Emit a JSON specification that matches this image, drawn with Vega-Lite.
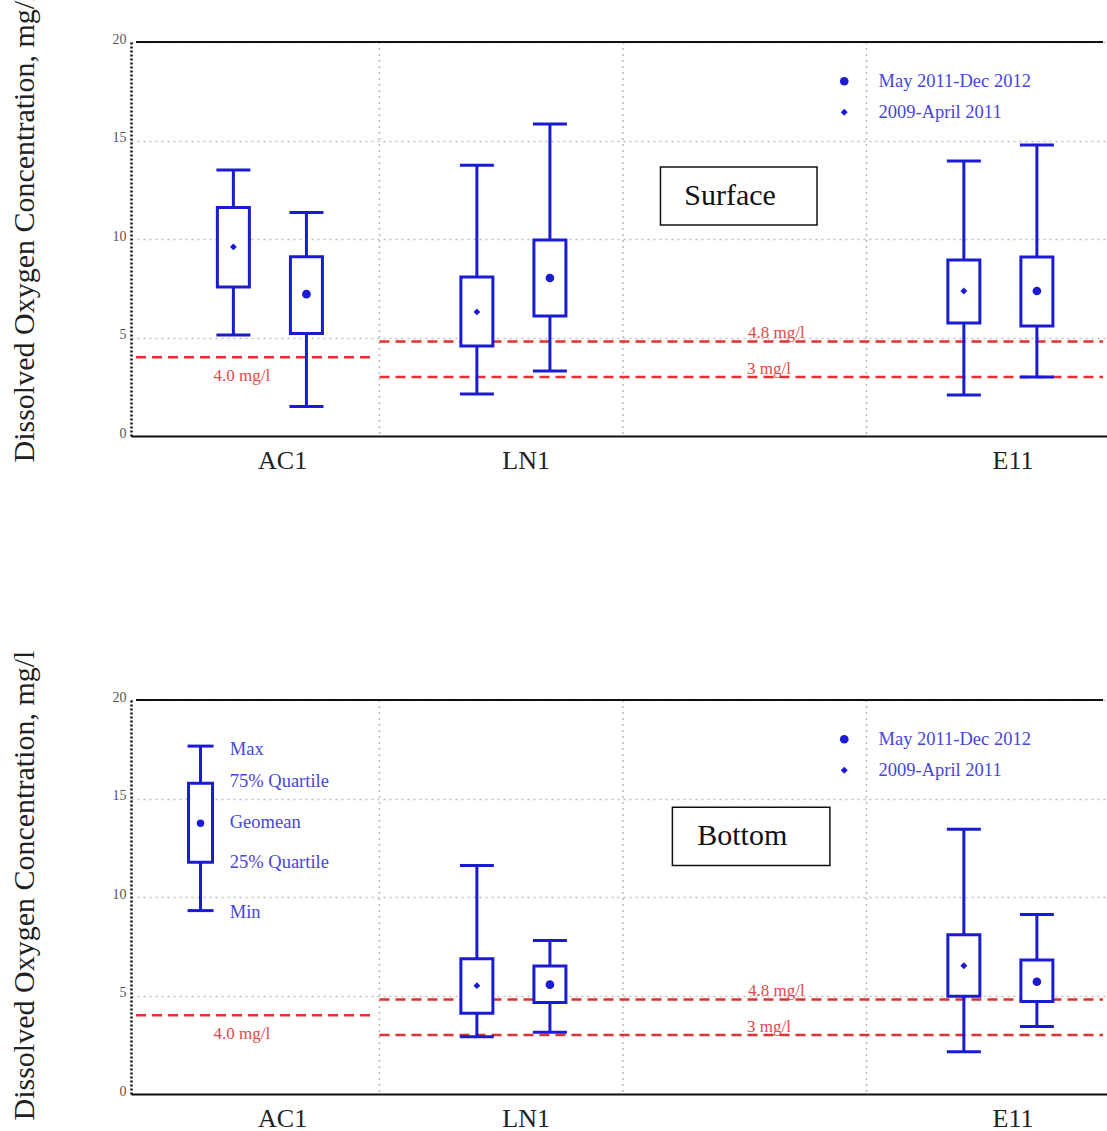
{
  "$schema": "https://vega.github.io/schema/vega-lite/v6.json",
  "background": "white",
  "padding": {"left": 9, "top": -8, "right": 0, "bottom": 0},
  "config": {
    "view": {"stroke": null},
    "font": "Liberation Serif"
  },
  "datasets": {
    "boxes": [
      {"panel": "Surface", "site": "AC1", "period": "2009-April 2011", "min": 5.13, "q1": 7.56, "mean": 9.6, "q3": 11.6, "max": 13.5},
      {"panel": "Surface", "site": "AC1", "period": "May 2011-Dec 2012", "min": 1.5, "q1": 5.2, "mean": 7.2, "q3": 9.1, "max": 11.35},
      {"panel": "Surface", "site": "LN1", "period": "2009-April 2011", "min": 2.13, "q1": 4.57, "mean": 6.3, "q3": 8.07, "max": 13.75},
      {"panel": "Surface", "site": "LN1", "period": "May 2011-Dec 2012", "min": 3.3, "q1": 6.09, "mean": 8.02, "q3": 9.95, "max": 15.84},
      {"panel": "Surface", "site": "E11", "period": "2009-April 2011", "min": 2.08, "q1": 5.74, "mean": 7.36, "q3": 8.93, "max": 13.96},
      {"panel": "Surface", "site": "E11", "period": "May 2011-Dec 2012", "min": 3.0, "q1": 5.58, "mean": 7.36, "q3": 9.09, "max": 14.77},
      {"panel": "Bottom", "site": "LN1", "period": "2009-April 2011", "min": 2.9, "q1": 4.1, "mean": 5.5, "q3": 6.87, "max": 11.6},
      {"panel": "Bottom", "site": "LN1", "period": "May 2011-Dec 2012", "min": 3.13, "q1": 4.65, "mean": 5.55, "q3": 6.5, "max": 7.79},
      {"panel": "Bottom", "site": "E11", "period": "2009-April 2011", "min": 2.14, "q1": 4.96, "mean": 6.51, "q3": 8.09, "max": 13.44},
      {"panel": "Bottom", "site": "E11", "period": "May 2011-Dec 2012", "min": 3.43, "q1": 4.7, "mean": 5.7, "q3": 6.8, "max": 9.11}
    ],
    "keybox": [
      {"site": "Key", "min": 9.31, "q1": 11.76, "mean": 13.74, "q3": 15.78, "max": 17.66}
    ],
    "keylabels": [
      {"label": "Max", "v": 17.5},
      {"label": "75% Quartile", "v": 15.88},
      {"label": "Geomean", "v": 13.79},
      {"label": "25% Quartile", "v": 11.76},
      {"label": "Min", "v": 9.26}
    ],
    "refs": [
      {"limit": 4.0, "from": 0, "to": 0.976, "label": "4.0 mg/l", "labelAt": 0.435},
      {"limit": 4.8, "from": 1, "to": 3.9715, "label": "4.8 mg/l", "labelAt": 2.63},
      {"limit": 3.0, "from": 1, "to": 3.9715, "label": "3 mg/l", "labelAt": 2.6}
    ],
    "bounds": [{"boundary": 1}, {"boundary": 2}, {"boundary": 3}]
  },
  "resolve": {"legend": {"shape": "independent", "size": "independent"}},
  "spacing": 177,
  "vconcat": [
    {
      "width": 977,
      "height": 394,
      "layer": [
        {
          "data": {"name": "bounds"},
          "mark": {"type": "rule", "color": "#b8b8b8", "strokeWidth": 1.5, "strokeDash": [2, 4]},
          "encoding": {
            "x": {"field": "boundary", "type": "quantitative", "scale": {"domain": [0, 3.9715], "nice": false, "zero": false},
              "axis": {"title": null, "values": [0.6, 1.6, 3.6], "labelExpr": "datum.value < 1 ? 'AC1' : datum.value < 2 ? 'LN1' : 'E11'", "grid": false, "ticks": false, "domainColor": "#111", "domainWidth": 2, "labelFont": "Liberation Serif", "labelFontSize": 26, "labelColor": "#222", "labelPadding": 11}}
          }
        },
        {
          "data": {"values": [{"edge": "top"}]},
          "mark": {"type": "rule", "color": "#111", "strokeWidth": 2},
          "encoding": {
            "x": {"datum": 0, "type": "quantitative"},
            "x2": {"datum": 3.9715},
            "y": {"datum": 20, "type": "quantitative", "scale": {"domain": [0, 20], "nice": false, "zero": true},
              "axis": {"title": "Dissolved Oxygen Concentration, mg/l", "titleFont": "Liberation Serif", "titleFontSize": 30, "titleFontWeight": "normal", "titleColor": "#222", "titleX": -98, "titleY": 420, "titleAngle": -90, "titleAlign": "left", "titleBaseline": "alphabetic", "values": [0, 5, 10, 15, 20], "labelFont": "Liberation Serif", "labelFontSize": 14, "labelColor": "#555", "labelBaseline": "middle", "labelOffset": -3, "labelPadding": 5, "ticks": false, "domainColor": "#111", "domainWidth": 2.5, "domainDash": [2, 2], "grid": true, "gridColor": "#c0c0c0", "gridDash": [2, 4], "gridWidth": 1.5}}
          }
        },
        {
          "data": {"name": "refs"},
          "mark": {"type": "rule", "color": "#e0302f", "strokeWidth": 2.5, "strokeDash": [10, 6]},
          "encoding": {
            "x": {"field": "from", "type": "quantitative", "title": null},
            "x2": {"field": "to"},
            "y": {"field": "limit", "type": "quantitative"}
          }
        },
        {
          "data": {"name": "refs"},
          "transform": [{"filter": "datum.limit == 4"}],
          "mark": {"type": "text", "color": "#e04a4a", "fontSize": 17, "baseline": "alphabetic", "dy": 24, "font": "Liberation Serif"},
          "encoding": {
            "x": {"field": "labelAt", "type": "quantitative", "title": null},
            "y": {"field": "limit", "type": "quantitative"},
            "text": {"field": "label"}
          }
        },
        {
          "data": {"name": "refs"},
          "transform": [{"filter": "datum.limit != 4"}],
          "mark": {"type": "text", "color": "#e04a4a", "fontSize": 17, "baseline": "alphabetic", "dy": -3, "font": "Liberation Serif"},
          "encoding": {
            "x": {"field": "labelAt", "type": "quantitative", "title": null},
            "y": {"field": "limit", "type": "quantitative"},
            "text": {"field": "label"}
          }
        },
        {
          "data": {"name": "boxes"},
          "transform": [
            {"filter": "datum.panel == 'Surface'"},
            {"calculate": "(datum.site == 'AC1' ? 0 : datum.site == 'LN1' ? 1 : 3) + (datum.period == '2009-April 2011' ? 0.4 : 0.7)", "as": "slot"}
          ],
          "layer": [
            {
              "mark": {"type": "rule", "color": "#1b1bd4", "strokeWidth": 3},
              "encoding": {
                "x": {"field": "slot", "type": "quantitative", "title": null},
                "y": {"field": "min", "type": "quantitative"},
                "y2": {"field": "max"}
              }
            },
            {
              "mark": {"type": "bar", "width": 32, "fill": "white", "stroke": "#1b1bd4", "strokeWidth": 3},
              "encoding": {
                "x": {"field": "slot", "type": "quantitative", "title": null},
                "y": {"field": "q1", "type": "quantitative"},
                "y2": {"field": "q3"}
              }
            },
            {
              "mark": {"type": "tick", "orient": "horizontal", "size": 34, "thickness": 3, "color": "#1b1bd4", "opacity": 1},
              "encoding": {
                "x": {"field": "slot", "type": "quantitative", "title": null},
                "y": {"field": "min", "type": "quantitative"}
              }
            },
            {
              "mark": {"type": "tick", "orient": "horizontal", "size": 34, "thickness": 3, "color": "#1b1bd4", "opacity": 1},
              "encoding": {
                "x": {"field": "slot", "type": "quantitative", "title": null},
                "y": {"field": "max", "type": "quantitative"}
              }
            },
            {
              "mark": {"type": "point", "filled": true, "color": "#1b1bd4", "opacity": 1},
              "encoding": {
                "x": {"field": "slot", "type": "quantitative", "title": null},
                "y": {"field": "mean", "type": "quantitative"},
                "shape": {"field": "period", "type": "ordinal", "scale": {"domain": ["May 2011-Dec 2012", "2009-April 2011"], "range": ["circle", "diamond"]},
                  "legend": {"title": null, "orient": "none", "legendX": 704, "legendY": 30, "labelFont": "Liberation Serif", "labelFontSize": 18.5, "labelColor": "#4646d8", "labelOffset": 25, "rowPadding": 12, "padding": 0}},
                "size": {"field": "period", "type": "ordinal", "scale": {"domain": ["May 2011-Dec 2012", "2009-April 2011"], "range": [75, 48]},
                  "legend": {"title": null, "orient": "none", "legendX": 704, "legendY": 30, "labelFont": "Liberation Serif", "labelFontSize": 18.5, "labelColor": "#4646d8", "labelOffset": 25, "rowPadding": 12, "padding": 0}}
              }
            }
          ]
        },
        {
          "data": {"values": [{"label": "Surface"}]},
          "layer": [
            {
              "mark": {"type": "rect", "fill": "white", "stroke": "#111", "strokeWidth": 1.5},
              "encoding": {
                "x": {"datum": 2.154, "type": "quantitative"},
                "x2": {"datum": 2.797},
                "y": {"datum": 13.65, "type": "quantitative"},
                "y2": {"datum": 10.71}
              }
            },
            {
              "mark": {"type": "text", "fontSize": 30, "color": "#111", "baseline": "middle", "align": "center", "font": "Liberation Serif"},
              "encoding": {
                "x": {"datum": 2.44, "type": "quantitative"},
                "y": {"datum": 12.18, "type": "quantitative"},
                "text": {"field": "label"}
              }
            }
          ]
        }
      ]
    },
    {
      "width": 977,
      "height": 394,
      "layer": [
        {
          "data": {"name": "bounds"},
          "mark": {"type": "rule", "color": "#b8b8b8", "strokeWidth": 1.5, "strokeDash": [2, 4]},
          "encoding": {
            "x": {"field": "boundary", "type": "quantitative", "scale": {"domain": [0, 3.9715], "nice": false, "zero": false},
              "axis": {"title": null, "values": [0.6, 1.6, 3.6], "labelExpr": "datum.value < 1 ? 'AC1' : datum.value < 2 ? 'LN1' : 'E11'", "grid": false, "ticks": false, "domainColor": "#111", "domainWidth": 2, "labelFont": "Liberation Serif", "labelFontSize": 26, "labelColor": "#222", "labelPadding": 11}}
          }
        },
        {
          "data": {"values": [{"edge": "top"}]},
          "mark": {"type": "rule", "color": "#111", "strokeWidth": 2},
          "encoding": {
            "x": {"datum": 0, "type": "quantitative"},
            "x2": {"datum": 3.9715},
            "y": {"datum": 20, "type": "quantitative", "scale": {"domain": [0, 20], "nice": false, "zero": true},
              "axis": {"title": "Dissolved Oxygen Concentration, mg/l", "titleFont": "Liberation Serif", "titleFontSize": 30, "titleFontWeight": "normal", "titleColor": "#222", "titleX": -98, "titleY": 420, "titleAngle": -90, "titleAlign": "left", "titleBaseline": "alphabetic", "values": [0, 5, 10, 15, 20], "labelFont": "Liberation Serif", "labelFontSize": 14, "labelColor": "#555", "labelBaseline": "middle", "labelOffset": -3, "labelPadding": 5, "ticks": false, "domainColor": "#111", "domainWidth": 2.5, "domainDash": [2, 2], "grid": true, "gridColor": "#c0c0c0", "gridDash": [2, 4], "gridWidth": 1.5}}
          }
        },
        {
          "data": {"name": "refs"},
          "mark": {"type": "rule", "color": "#e0302f", "strokeWidth": 2.5, "strokeDash": [10, 6]},
          "encoding": {
            "x": {"field": "from", "type": "quantitative", "title": null},
            "x2": {"field": "to"},
            "y": {"field": "limit", "type": "quantitative"}
          }
        },
        {
          "data": {"name": "refs"},
          "transform": [{"filter": "datum.limit == 4"}],
          "mark": {"type": "text", "color": "#e04a4a", "fontSize": 17, "baseline": "alphabetic", "dy": 24, "font": "Liberation Serif"},
          "encoding": {
            "x": {"field": "labelAt", "type": "quantitative", "title": null},
            "y": {"field": "limit", "type": "quantitative"},
            "text": {"field": "label"}
          }
        },
        {
          "data": {"name": "refs"},
          "transform": [{"filter": "datum.limit != 4"}],
          "mark": {"type": "text", "color": "#e04a4a", "fontSize": 17, "baseline": "alphabetic", "dy": -3, "font": "Liberation Serif"},
          "encoding": {
            "x": {"field": "labelAt", "type": "quantitative", "title": null},
            "y": {"field": "limit", "type": "quantitative"},
            "text": {"field": "label"}
          }
        },
        {
          "data": {"name": "keybox"},
          "layer": [
            {
              "mark": {"type": "rule", "color": "#1b1bd4", "strokeWidth": 3},
              "encoding": {
                "x": {"datum": 0.265, "type": "quantitative"},
                "y": {"field": "min", "type": "quantitative"},
                "y2": {"field": "max"}
              }
            },
            {
              "mark": {"type": "bar", "width": 24, "fill": "white", "stroke": "#1b1bd4", "strokeWidth": 3},
              "encoding": {
                "x": {"datum": 0.265, "type": "quantitative"},
                "y": {"field": "q1", "type": "quantitative"},
                "y2": {"field": "q3"}
              }
            },
            {
              "mark": {"type": "tick", "orient": "horizontal", "size": 26, "thickness": 3, "color": "#1b1bd4", "opacity": 1},
              "encoding": {
                "x": {"datum": 0.265, "type": "quantitative"},
                "y": {"field": "min", "type": "quantitative"}
              }
            },
            {
              "mark": {"type": "tick", "orient": "horizontal", "size": 26, "thickness": 3, "color": "#1b1bd4", "opacity": 1},
              "encoding": {
                "x": {"datum": 0.265, "type": "quantitative"},
                "y": {"field": "max", "type": "quantitative"}
              }
            },
            {
              "mark": {"type": "point", "filled": true, "shape": "circle", "size": 55, "color": "#1b1bd4", "opacity": 1},
              "encoding": {
                "x": {"datum": 0.265, "type": "quantitative"},
                "y": {"field": "mean", "type": "quantitative"}
              }
            }
          ]
        },
        {
          "data": {"name": "keylabels"},
          "mark": {"type": "text", "color": "#4646d8", "fontSize": 18.5, "align": "left", "baseline": "middle", "font": "Liberation Serif"},
          "encoding": {
            "x": {"datum": 0.385, "type": "quantitative"},
            "y": {"field": "v", "type": "quantitative"},
            "text": {"field": "label"}
          }
        },
        {
          "data": {"name": "boxes"},
          "transform": [
            {"filter": "datum.panel == 'Bottom'"},
            {"calculate": "(datum.site == 'AC1' ? 0 : datum.site == 'LN1' ? 1 : 3) + (datum.period == '2009-April 2011' ? 0.4 : 0.7)", "as": "slot"}
          ],
          "layer": [
            {
              "mark": {"type": "rule", "color": "#1b1bd4", "strokeWidth": 3},
              "encoding": {
                "x": {"field": "slot", "type": "quantitative", "title": null},
                "y": {"field": "min", "type": "quantitative"},
                "y2": {"field": "max"}
              }
            },
            {
              "mark": {"type": "bar", "width": 32, "fill": "white", "stroke": "#1b1bd4", "strokeWidth": 3},
              "encoding": {
                "x": {"field": "slot", "type": "quantitative", "title": null},
                "y": {"field": "q1", "type": "quantitative"},
                "y2": {"field": "q3"}
              }
            },
            {
              "mark": {"type": "tick", "orient": "horizontal", "size": 34, "thickness": 3, "color": "#1b1bd4", "opacity": 1},
              "encoding": {
                "x": {"field": "slot", "type": "quantitative", "title": null},
                "y": {"field": "min", "type": "quantitative"}
              }
            },
            {
              "mark": {"type": "tick", "orient": "horizontal", "size": 34, "thickness": 3, "color": "#1b1bd4", "opacity": 1},
              "encoding": {
                "x": {"field": "slot", "type": "quantitative", "title": null},
                "y": {"field": "max", "type": "quantitative"}
              }
            },
            {
              "mark": {"type": "point", "filled": true, "color": "#1b1bd4", "opacity": 1},
              "encoding": {
                "x": {"field": "slot", "type": "quantitative", "title": null},
                "y": {"field": "mean", "type": "quantitative"},
                "shape": {"field": "period", "type": "ordinal", "scale": {"domain": ["May 2011-Dec 2012", "2009-April 2011"], "range": ["circle", "diamond"]},
                  "legend": {"title": null, "orient": "none", "legendX": 704, "legendY": 30, "labelFont": "Liberation Serif", "labelFontSize": 18.5, "labelColor": "#4646d8", "labelOffset": 25, "rowPadding": 12, "padding": 0}},
                "size": {"field": "period", "type": "ordinal", "scale": {"domain": ["May 2011-Dec 2012", "2009-April 2011"], "range": [75, 48]},
                  "legend": {"title": null, "orient": "none", "legendX": 704, "legendY": 30, "labelFont": "Liberation Serif", "labelFontSize": 18.5, "labelColor": "#4646d8", "labelOffset": 25, "rowPadding": 12, "padding": 0}}
              }
            }
          ]
        },
        {
          "data": {"values": [{"label": "Bottom"}]},
          "layer": [
            {
              "mark": {"type": "rect", "fill": "white", "stroke": "#111", "strokeWidth": 1.5},
              "encoding": {
                "x": {"datum": 2.203, "type": "quantitative"},
                "x2": {"datum": 2.85},
                "y": {"datum": 14.55, "type": "quantitative"},
                "y2": {"datum": 11.6}
              }
            },
            {
              "mark": {"type": "text", "fontSize": 30, "color": "#111", "baseline": "middle", "align": "center", "font": "Liberation Serif"},
              "encoding": {
                "x": {"datum": 2.49, "type": "quantitative"},
                "y": {"datum": 13.08, "type": "quantitative"},
                "text": {"field": "label"}
              }
            }
          ]
        }
      ]
    }
  ]
}
